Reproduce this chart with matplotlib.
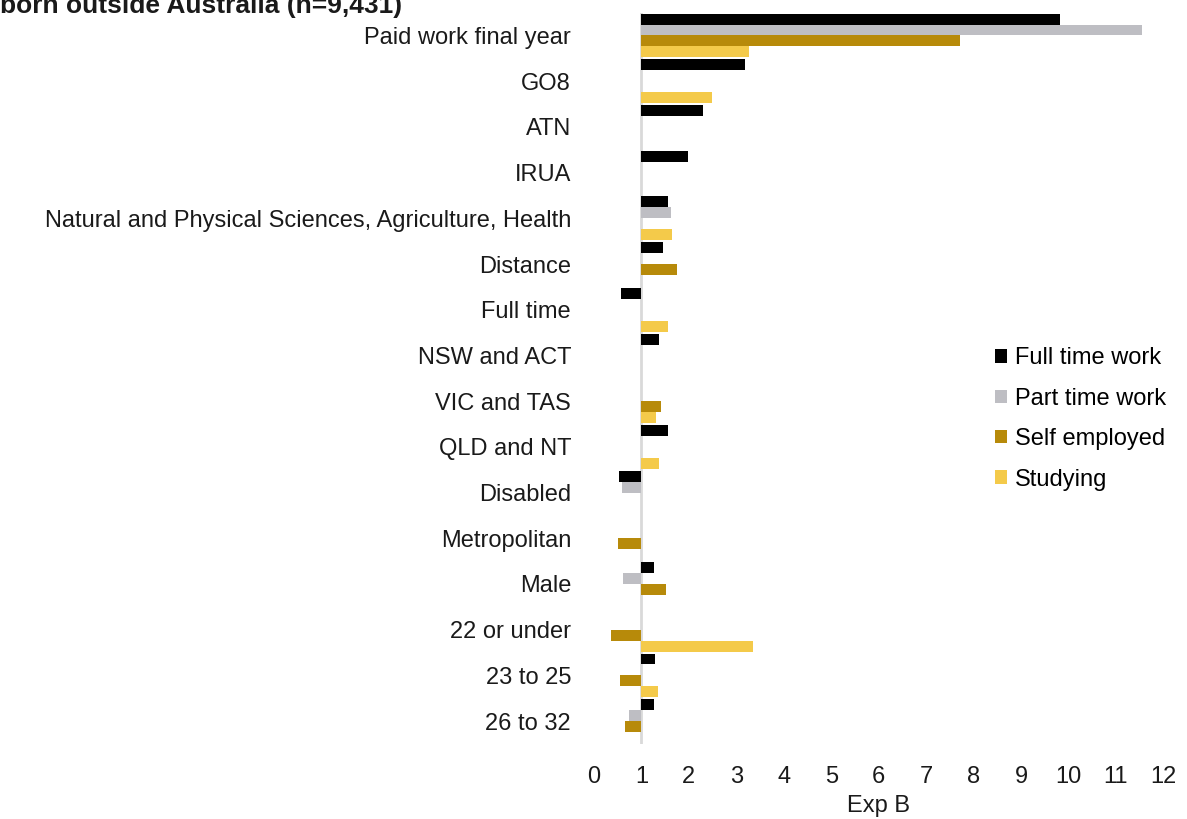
import numpy as np
import matplotlib
matplotlib.use("Agg")
import matplotlib.pyplot as plt
from matplotlib.patches import Patch

plt.rcParams['font.family'] = ['Liberation Sans', 'DejaVu Sans']

nan = np.nan

# categories top to bottom
categories = ["Paid work final year", "GO8", "ATN", "IRUA",
              "Natural and Physical Sciences, Agriculture, Health",
              "Distance", "Full time", "NSW and ACT", "VIC and TAS",
              "QLD and NT", "Disabled", "Metropolitan", "Male",
              "22 or under", "23 to 25", "26 to 32"]

full_time_work = [9.83, 3.19, 2.29, 1.98, 1.56, 1.46, 0.57, 1.37, nan, 1.56, 0.53, nan, 1.26, nan, 1.28, 1.26]
part_time_work = [11.56, nan, nan, nan, 1.62, nan, nan, nan, nan, nan, 0.59, nan, 0.61, nan, nan, 0.74]
self_employed = [7.72, nan, nan, nan, nan, 1.75, nan, nan, 1.42, nan, nan, 0.51, 1.51, 0.35, 0.55, 0.65]
studying = [3.27, 2.48, nan, nan, 1.65, nan, 1.56, nan, 1.31, 1.37, nan, nan, nan, 3.35, 1.36, nan]

series_names = ["Full time work", "Part time work", "Self employed", "Studying"]
colors = ["#000000", "#BEBEC3", "#B78A0A", "#F4CA4A"]

fig = plt.figure(figsize=(11.87, 8.19), dpi=100)
ax = fig.add_axes([0.5004, 0.0916, 0.4796, 0.893])

y = np.arange(len(categories))
h = 0.239
base = 1.0
for i, (vals, c) in enumerate(zip([full_time_work, part_time_work, self_employed, studying], colors)):
    vals = np.array(vals, dtype=float)
    ax.barh(y + (i - 1.5) * h, vals - base, left=base, height=h, color=c,
            edgecolor='none', zorder=2)

ax.set_ylim(len(categories) - 0.5, -0.5)
ax.set_xlim(0, 12)
ax.set_xticks(range(0, 13))
ax.set_yticks(y)
ax.set_yticklabels(categories)
ax.tick_params(axis='both', length=0, labelsize=17, colors='#1a1a1a')
ax.tick_params(axis='y', pad=16.5)
ax.tick_params(axis='x', pad=16)
for s in ax.spines.values():
    s.set_visible(False)
ax.axvline(base, color='#D9D9D9', lw=2, zorder=1)
ax.set_xlabel("Exp B", fontsize=17, color='#1a1a1a', labelpad=5)

handles = [Patch(facecolor=c, edgecolor='none') for c in colors]
fig.legend(handles, series_names, loc='upper left', bbox_to_anchor=(0.8385, 0.576),
           frameon=False, fontsize=17, handlelength=0.5, handleheight=0.5,
           handletextpad=0.35, labelspacing=0.78, borderpad=0, borderaxespad=0)

fig.text(0.0, 0.984, "born outside Australia (n=9,431)", fontsize=19,
         fontweight='bold', ha='left', va='baseline', color='#1a1a1a')

fig.savefig("out.png", dpi=100)
